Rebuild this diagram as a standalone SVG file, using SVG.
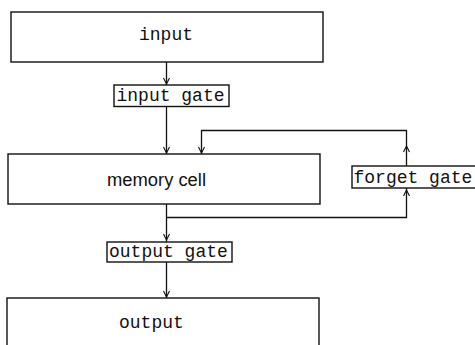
<svg xmlns="http://www.w3.org/2000/svg" width="475" height="345" viewBox="0 0 475 345">
  <style>
    .box { fill: #fff; stroke: #111; stroke-width: 1.4; }
    .mono { font-family: "Liberation Mono", "Courier New", monospace; font-size: 18px; fill: #111; }
    .sans { font-family: "Liberation Sans", Arial, sans-serif; font-size: 18px; fill: #111; }
    .wire { fill: none; stroke: #111; stroke-width: 1.3; }
    .head { fill: none; stroke: #111; stroke-width: 1.1; }
  </style>
  <rect width="475" height="345" fill="#fff"/>

  <g id="connectors">
    <!-- input -> input gate -->
    <path class="wire" d="M166.5,62 V85"/>
    <path class="head" d="M163.5,78 L166.5,84 L169.5,78"/>
    <!-- input gate -> memory cell -->
    <path class="wire" d="M166.5,107 V154"/>
    <path class="head" d="M163.5,147 L166.5,153 L169.5,147"/>
    <!-- memory cell -> output gate -->
    <path class="wire" d="M166.5,204 V242"/>
    <path class="head" d="M163.5,234 L166.5,240 L169.5,234"/>
    <!-- memory cell -> forget gate -->
    <path class="wire" d="M166.5,217.5 H406.5 V188"/>
    <path class="head" d="M403.5,196 L406.5,190 L409.5,196"/>
    <!-- forget gate -> memory cell -->
    <path class="wire" d="M406.5,166 V130.5 H201.5 V154"/>
    <path class="head" d="M403.5,152 L406.5,146 L409.5,152"/>
    <path class="head" d="M198.5,147 L201.5,153 L204.5,147"/>
    <!-- output gate -> output -->
    <path class="wire" d="M166.5,262 V298"/>
    <path class="head" d="M163.5,291 L166.5,297 L169.5,291"/>
  </g>

  <g id="input">
    <rect class="box" x="11" y="12" width="312" height="50"/>
    <text class="mono" x="139" y="40">input</text>
  </g>

  <g id="input-gate">
    <rect class="box" x="114" y="85" width="115" height="21.5"/>
    <text class="mono" x="116.5" y="101">input gate</text>
  </g>

  <g id="memory-cell">
    <rect class="box" x="8" y="154" width="312" height="50"/>
    <text class="sans" x="107" y="185.5" textLength="99" lengthAdjust="spacingAndGlyphs">memory cell</text>
  </g>

  <g id="forget-gate">
    <rect class="box" x="352" y="166" width="130" height="22"/>
    <text class="mono" x="353.5" y="182.5">forget gate</text>
  </g>

  <g id="output-gate">
    <rect class="box" x="107" y="242" width="125" height="20"/>
    <text class="mono" x="109" y="257">output gate</text>
  </g>

  <g id="output">
    <rect class="box" x="7" y="298" width="312" height="60"/>
    <text class="mono" x="119" y="328">output</text>
  </g>
</svg>
